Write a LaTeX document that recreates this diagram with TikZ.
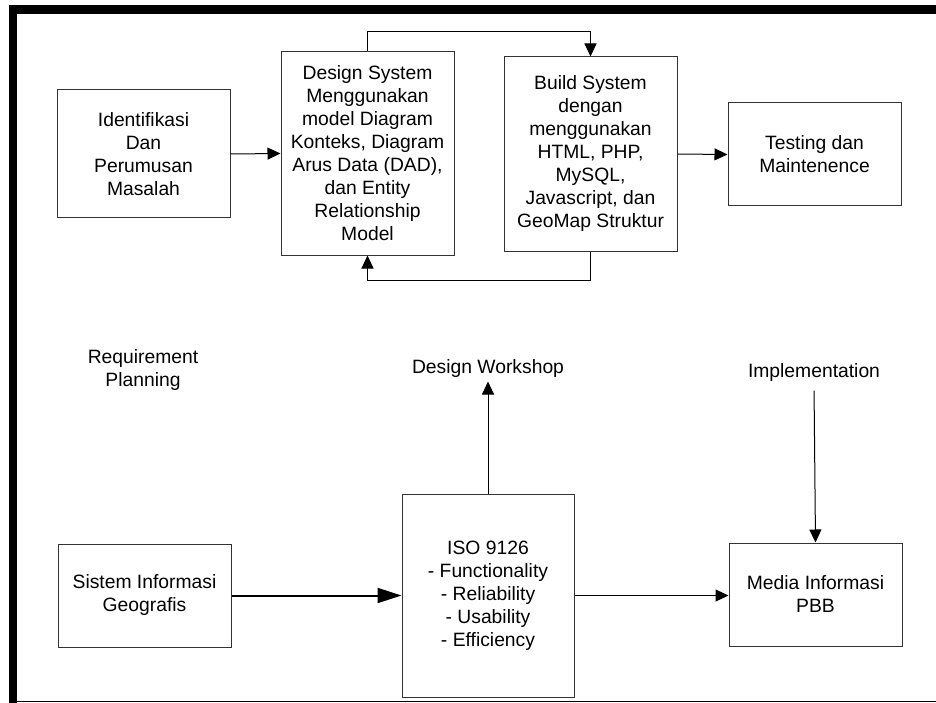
\documentclass[tikz,border=0pt]{standalone}
\usepackage{fontspec}
\setmainfont{Liberation Sans}
\usetikzlibrary{arrows.meta}
\tikzset{
  blok/.style={draw=black!80, line width=1pt, align=center, inner sep=0pt},
  panah/.style={-{Triangle[length=13pt,width=12pt]}, line width=1pt},
}
\begin{document}
\begin{tikzpicture}[x=1pt,y=-1pt,font=\fontsize{19.3}{23}\selectfont]
\useasboundingbox (0,0) rectangle (936,703);
% bingkai
\fill (9,5) rectangle (936,14);
\fill (9,5) rectangle (17,703);
\draw[line width=1.5pt] (17,701.5) -- (936,701.5);

% tahap atas
\node[blok, minimum width=173pt, minimum height=128pt] (ident) at (143.5,154) {Identifikasi\\Dan\\Perumusan\\Masalah};
\node[blok, minimum width=173pt, minimum height=203pt] (design) at (367.5,153.5) {Design System\\Menggunakan\\model Diagram\\Konteks, Diagram\\Arus Data (DAD),\\dan Entity\\Relationship\\Model};
\node[blok, minimum width=173pt, minimum height=194pt] (build) at (590.5,154) {Build System\\dengan\\menggunakan\\HTML, PHP,\\MySQL,\\Javascript, dan\\GeoMap Struktur};
\node[blok, minimum width=173pt, minimum height=103pt] (testing) at (814.5,154.5) {Testing dan\\Maintenence};

\draw[panah] (ident.east) -- (design.west);
\draw[panah] (build.east) -- (testing.west);
\draw[panah] (design.north) -- ++(0,-20) -| (build.north);
\draw[panah] (build.south) -- ++(0,29) -| (design.south);

% tahap bawah
\node[align=center] (planning) at (143,370) {Requirement\\Planning};
\node (workshop) at (488,369) {Design Workshop};
\node (impl) at (814,373) {Implementation};

\node[blok, minimum width=173pt, minimum height=103pt] (sistem) at (144.5,595.5) {Sistem Informasi\\Geografis};
\node[blok, minimum width=172pt, minimum height=203pt] (iso) at (488,595.5) {ISO 9126\\- Functionality\\- Reliability\\- Usability\\- Efficiency};
\node[blok, minimum width=173pt, minimum height=103pt] (media) at (815.5,594.5) {Media Informasi\\PBB};

\draw[-{Triangle[length=24pt,width=15pt]}, line width=2pt] (sistem.east) -- (sistem.east -| iso.west);
\draw[panah] (iso.east) -- (iso.east -| media.west);
\draw[panah] (iso.north) -- (workshop.south);
\draw[panah, shorten <=5pt] (impl.south) -- (media.north);
\end{tikzpicture}
\end{document}
